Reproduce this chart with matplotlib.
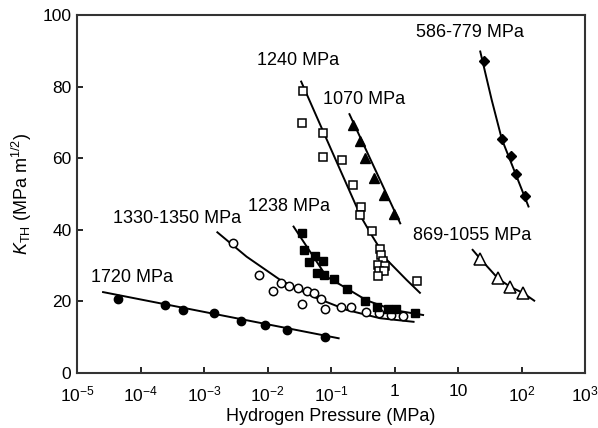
import numpy as np
import matplotlib
matplotlib.use("Agg")
import matplotlib.pyplot as plt
from matplotlib.ticker import FixedLocator, FixedFormatter

plt.rcParams['font.family'] = ['Liberation Sans', 'DejaVu Sans']
plt.rcParams['mathtext.fontset'] = 'custom'
plt.rcParams['mathtext.rm'] = 'Liberation Sans'
plt.rcParams['mathtext.it'] = 'Liberation Sans:italic'
plt.rcParams['mathtext.bf'] = 'Liberation Sans:bold'

#%% data (pressure as log10 MPa, K_TH in MPa m^1/2)
# 1720 MPa, filled circles
p1720 = [-4.36, -3.62, -3.33, -2.84, -2.42, -2.04, -1.70, -1.09]
k1720 = [20.7, 19.0, 17.7, 16.8, 14.6, 13.4, 12.0, 10.0]
p1720_fit = [-4.59, -0.88]
k1720_fit = [22.6, 9.7]

# 1330-1350 MPa, open circles
p1330 = [-2.55, -2.13, -1.92, -1.78, -1.66, -1.52, -1.38, -1.27, -1.15,
         -1.46, -1.09, -0.84, -0.69, -0.45, -0.24, -0.05, 0.13]
k1330 = [36.2, 27.4, 23.0, 25.0, 24.2, 23.7, 23.0, 22.3, 20.7,
         19.4, 17.8, 18.5, 18.5, 17.1, 16.7, 16.2, 15.9]
p1330_fit = [-2.79, -2.33, -1.80, -1.28, -0.75, -0.23, 0.30]
k1330_fit = [39.3, 32.5, 26.0, 21.3, 17.6, 15.3, 14.3]

# 1238 MPa, filled squares
p1238 = [-1.45, -1.43, -1.34, -1.25, -1.13, -1.22, -1.11, -0.96, -0.75,
         -0.46, -0.28, -0.10, 0.03, 0.32]
k1238 = [39.2, 34.4, 31.1, 32.7, 31.4, 28.0, 27.4, 26.3, 23.4,
         20.2, 18.5, 17.8, 17.8, 16.7]
p1238_fit = [-1.59, -1.07, -0.75, -0.44, -0.02, 0.45]
k1238_fit = [40.9, 26.9, 23.6, 20.3, 17.6, 16.2]

# 1240 MPa, open squares
p1240 = [-1.44, -1.46, -1.12, -1.12, -0.82, -0.65, -0.53, -0.55, -0.36,
         -0.23, -0.21, -0.18, -0.26, -0.15, -0.24, -0.17, -0.26, 0.36]
k1240 = [78.9, 69.7, 67.0, 60.4, 59.5, 52.5, 46.3, 44.1, 39.7,
         34.5, 33.0, 31.3, 30.2, 29.9, 28.6, 28.6, 27.1, 25.8]
p1240_fit = [-1.47, -1.0, -0.53, -0.36, -0.12, 0.19, 0.40]
k1240_fit = [81.4, 62.5, 43.7, 38.5, 31.6, 26.0, 22.4]

# 1070 MPa, filled triangles
p1070 = [-0.65, -0.54, -0.46, -0.32, -0.17, -0.01]
k1070 = [69.3, 64.9, 60.0, 54.6, 49.7, 44.4]
p1070_fit = [-0.71, 0.09]
k1070_fit = [72.3, 41.8]

# 586-779 MPa, filled diamonds
p586 = [1.41, 1.69, 1.83, 1.91, 2.06]
k586 = [87.2, 65.3, 60.7, 55.5, 49.5]
p586_fit = [1.35, 1.53, 1.69, 2.11]
k586_fit = [89.8, 76.3, 65.3, 46.5]

# 869-1055 MPa, open triangles
p869 = [1.35, 1.63, 1.82, 2.03]
k869 = [31.9, 26.4, 24.1, 22.3]
p869_fit = [1.23, 1.35, 1.63, 1.82, 2.03, 2.20]
k869_fit = [34.4, 31.9, 26.4, 24.1, 22.3, 20.2]

# labels: text, log10 P of left edge, K of centre
labels = ['1720 MPa', '1330-1350 MPa', '1238 MPa', '1240 MPa',
          '1070 MPa', '586-779 MPa', '869-1055 MPa']
label_p = [-4.78, -4.43, -2.30, -2.16, -1.13, 0.34, 0.29]
label_k = [26.7, 43.1, 46.5, 87.3, 76.4, 95.2, 38.5]

xticks = [-5, -4, -3, -2, -1, 0, 1, 2, 3]
xticklabels = ['$10^{-5}$', '$10^{-4}$', '$10^{-3}$', '$10^{-2}$', '$10^{-1}$',
               '1', '10', '$10^{2}$', '$10^{3}$']
yticks = [0, 20, 40, 60, 80, 100]

#%%
def P(a):
    return 10.0 ** np.array(a, dtype=float)

fig = plt.figure(figsize=(5.98, 4.28), dpi=100)
ax = fig.add_axes([0.1288, 0.1285, 0.8495, 0.8365])
ax.set_xscale('log')

lw = 1.4
ms = 6
ax.plot(P(p1720_fit), k1720_fit, color='k', lw=lw)
ax.plot(P(p1720), k1720, 'o', color='k', ms=ms)

ax.plot(P(p1330_fit), k1330_fit, color='k', lw=lw)
ax.plot(P(p1330), k1330, 'o', mfc='white', mec='k', mew=1.1, ms=ms)

ax.plot(P(p1238_fit), k1238_fit, color='k', lw=lw)
ax.plot(P(p1238), k1238, 's', color='k', ms=ms)

ax.plot(P(p1240_fit), k1240_fit, color='k', lw=lw)
ax.plot(P(p1240), k1240, 's', mfc='white', mec='k', mew=1.1, ms=ms)

ax.plot(P(p1070_fit), k1070_fit, color='k', lw=lw)
ax.plot(P(p1070), k1070, '^', color='k', ms=ms + 1)

ax.plot(P(p586_fit), k586_fit, color='k', lw=lw)
ax.plot(P(p586), k586, 'D', color='k', ms=ms - 0.5)

ax.plot(P(p869_fit), k869_fit, color='k', lw=lw)
ax.plot(P(p869), k869, '^', mfc='white', mec='k', mew=1.1, ms=ms + 2)

for t, lp, k in zip(labels, label_p, label_k):
    ax.text(10.0 ** lp, k, t, fontsize=13, ha='left', va='center')

ax.set_xlim(1e-5, 1e3)
ax.set_ylim(0, 100)
ax.xaxis.set_major_locator(FixedLocator(P(xticks)))
ax.xaxis.set_major_formatter(FixedFormatter(xticklabels))
ax.xaxis.set_minor_locator(FixedLocator([]))
ax.set_yticks(yticks)
ax.tick_params(direction='in', length=4, width=1.2, labelsize=12.5)
ax.tick_params(axis='x', pad=8)
ax.tick_params(axis='y', pad=4)

for s in ax.spines.values():
    s.set_linewidth(1.5)
    s.set_color('#333333')

ax.set_xlabel('Hydrogen Pressure (MPa)', fontsize=13, labelpad=3)
ax.set_ylabel(r'$K_{\rm TH}$ (MPa m$^{1/2}$)', fontsize=13, labelpad=6)

fig.savefig('out.png', dpi=100)
